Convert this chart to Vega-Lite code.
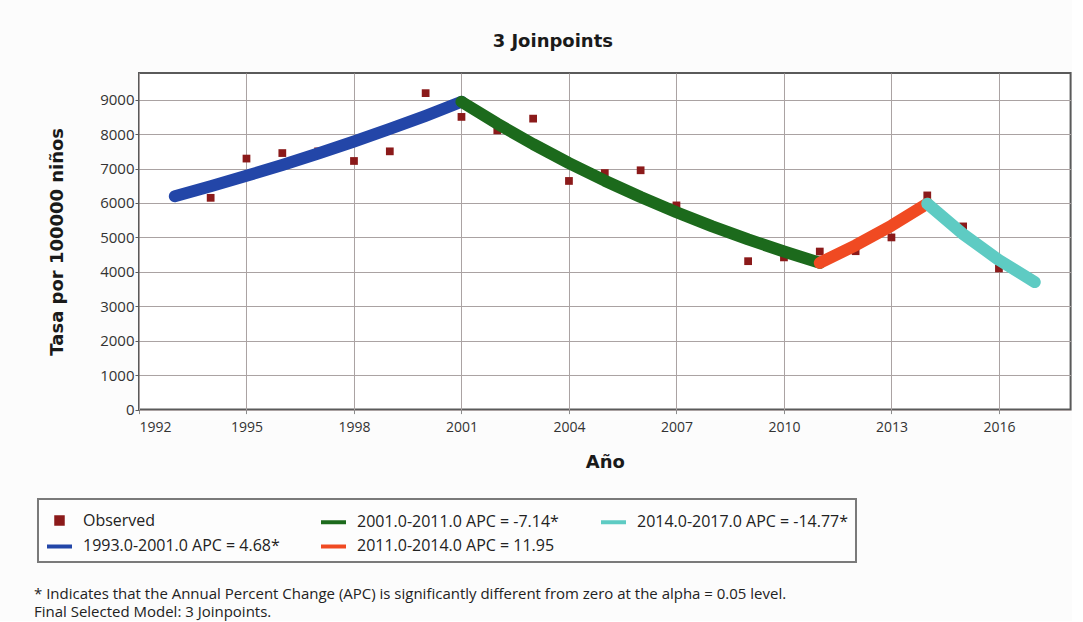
{
  "$schema": "https://vega.github.io/schema/vega-lite/v6.json",
  "background": "#fcfcfc",
  "padding": {"left": 34, "top": 32, "right": 0, "bottom": 0},
  "spacing": 112,
  "datasets": {
    "observed": [
      {"year": 1993, "rate": 6180, "series": "Observed"},
      {"year": 1994, "rate": 6150, "series": "Observed"},
      {"year": 1995, "rate": 7290, "series": "Observed"},
      {"year": 1996, "rate": 7450, "series": "Observed"},
      {"year": 1997, "rate": 7500, "series": "Observed"},
      {"year": 1998, "rate": 7220, "series": "Observed"},
      {"year": 1999, "rate": 7500, "series": "Observed"},
      {"year": 2000, "rate": 9190, "series": "Observed"},
      {"year": 2001, "rate": 8500, "series": "Observed"},
      {"year": 2002, "rate": 8110, "series": "Observed"},
      {"year": 2003, "rate": 8450, "series": "Observed"},
      {"year": 2004, "rate": 6640, "series": "Observed"},
      {"year": 2005, "rate": 6870, "series": "Observed"},
      {"year": 2006, "rate": 6950, "series": "Observed"},
      {"year": 2007, "rate": 5930, "series": "Observed"},
      {"year": 2008, "rate": 5300, "series": "Observed"},
      {"year": 2009, "rate": 4310, "series": "Observed"},
      {"year": 2010, "rate": 4420, "series": "Observed"},
      {"year": 2011, "rate": 4590, "series": "Observed"},
      {"year": 2012, "rate": 4600, "series": "Observed"},
      {"year": 2013, "rate": 5000, "series": "Observed"},
      {"year": 2014, "rate": 6220, "series": "Observed"},
      {"year": 2015, "rate": 5320, "series": "Observed"},
      {"year": 2016, "rate": 4100, "series": "Observed"},
      {"year": 2017, "rate": 3700, "series": "Observed"}
    ],
    "fitted": [
      {"year": 1993, "rate": 6195, "series": "1993.0-2001.0 APC = 4.68*"},
      {"year": 1994, "rate": 6485, "series": "1993.0-2001.0 APC = 4.68*"},
      {"year": 1995, "rate": 6789, "series": "1993.0-2001.0 APC = 4.68*"},
      {"year": 1996, "rate": 7106, "series": "1993.0-2001.0 APC = 4.68*"},
      {"year": 1997, "rate": 7439, "series": "1993.0-2001.0 APC = 4.68*"},
      {"year": 1998, "rate": 7787, "series": "1993.0-2001.0 APC = 4.68*"},
      {"year": 1999, "rate": 8152, "series": "1993.0-2001.0 APC = 4.68*"},
      {"year": 2000, "rate": 8533, "series": "1993.0-2001.0 APC = 4.68*"},
      {"year": 2001, "rate": 8940, "series": "1993.0-2001.0 APC = 4.68*"},
      {"year": 2001, "rate": 8940, "series": "2001.0-2011.0 APC = -7.14*"},
      {"year": 2002, "rate": 8302, "series": "2001.0-2011.0 APC = -7.14*"},
      {"year": 2003, "rate": 7709, "series": "2001.0-2011.0 APC = -7.14*"},
      {"year": 2004, "rate": 7159, "series": "2001.0-2011.0 APC = -7.14*"},
      {"year": 2005, "rate": 6648, "series": "2001.0-2011.0 APC = -7.14*"},
      {"year": 2006, "rate": 6173, "series": "2001.0-2011.0 APC = -7.14*"},
      {"year": 2007, "rate": 5732, "series": "2001.0-2011.0 APC = -7.14*"},
      {"year": 2008, "rate": 5323, "series": "2001.0-2011.0 APC = -7.14*"},
      {"year": 2009, "rate": 4943, "series": "2001.0-2011.0 APC = -7.14*"},
      {"year": 2010, "rate": 4590, "series": "2001.0-2011.0 APC = -7.14*"},
      {"year": 2011, "rate": 4262, "series": "2001.0-2011.0 APC = -7.14*"},
      {"year": 2011, "rate": 4262, "series": "2011.0-2014.0 APC = 11.95"},
      {"year": 2012, "rate": 4771, "series": "2011.0-2014.0 APC = 11.95"},
      {"year": 2013, "rate": 5342, "series": "2011.0-2014.0 APC = 11.95"},
      {"year": 2014, "rate": 5980, "series": "2011.0-2014.0 APC = 11.95"},
      {"year": 2014, "rate": 5980, "series": "2014.0-2017.0 APC = -14.77*"},
      {"year": 2015, "rate": 5097, "series": "2014.0-2017.0 APC = -14.77*"},
      {"year": 2016, "rate": 4344, "series": "2014.0-2017.0 APC = -14.77*"},
      {"year": 2017, "rate": 3703, "series": "2014.0-2017.0 APC = -14.77*"}
    ],
    "notes": [
      {"line": 1, "pos": 0, "text": "* Indicates that the Annual Percent Change (APC) is significantly different from zero at the alpha = 0.05 level."},
      {"line": 2, "pos": 0, "text": "Final Selected Model: 3 Joinpoints."}
    ]
  },
  "vconcat": [
    {
      "width": 931.6,
      "height": 336.6,
      "view": {"stroke": "#5a5a5a", "strokeWidth": 2, "fill": "#ffffff"},
      "title": {
        "text": "3 Joinpoints",
        "font": "DejaVu Sans",
        "fontSize": 18,
        "fontWeight": "bold",
        "color": "#1a1a1a",
        "anchor": "middle",
        "frame": "group",
        "dx": -52,
        "offset": 22
      },
      "encoding": {
        "x": {
          "field": "year",
          "type": "quantitative",
          "title": "Año",
          "scale": {"domain": [1992, 2018], "nice": false, "zero": false},
          "axis": {
            "values": [1992, 1995, 1998, 2001, 2004, 2007, 2010, 2013, 2016],
            "format": "d",
            "domain": false,
            "grid": true,
            "gridColor": "#aaa2a2",
            "gridWidth": 1,
            "ticks": true,
            "tickSize": 4,
            "tickColor": "#8a8a8a",
            "labelFont": "Open Sans",
            "labelFontSize": 14,
            "labelColor": "#333333",
            "labelPadding": 7,
            "titleFont": "DejaVu Sans",
            "titleFontSize": 18,
            "titleFontWeight": "bold",
            "titleColor": "#1a1a1a",
            "titlePadding": 19
          }
        },
        "y": {
          "field": "rate",
          "type": "quantitative",
          "title": "Tasa por 100000 niños",
          "scale": {"domain": [0, 9775], "nice": false},
          "axis": {
            "values": [0, 1000, 2000, 3000, 4000, 5000, 6000, 7000, 8000, 9000],
            "format": "d",
            "domain": false,
            "grid": true,
            "gridColor": "#aaa2a2",
            "gridWidth": 1,
            "ticks": true,
            "tickSize": 4,
            "tickColor": "#5a5a5a",
            "labelFont": "Open Sans",
            "labelFontSize": 15,
            "labelColor": "#333333",
            "labelPadding": 1,
            "titleFont": "DejaVu Sans",
            "titleFontSize": 18,
            "titleFontWeight": "bold",
            "titleColor": "#1a1a1a",
            "titlePadding": 33
          }
        },
        "color": {
          "field": "series",
          "type": "nominal",
          "scale": {
            "domain": [
              "Observed",
              "1993.0-2001.0 APC = 4.68*",
              "2001.0-2011.0 APC = -7.14*",
              "2011.0-2014.0 APC = 11.95",
              "2014.0-2017.0 APC = -14.77*"
            ],
            "range": ["#8b1a1a", "#2346a8", "#1c6a1c", "#f04a22", "#5ecbc3"]
          },
          "legend": {
            "title": null,
            "orient": "none",
            "legendX": -101,
            "legendY": 426,
            "columns": 3,
            "columnPadding": 33,
            "rowPadding": -3,
            "padding": 7,
            "strokeColor": "#7a7a7a",
            "fillColor": "#fdfdfd",
            "symbolSize": 625,
            "symbolStrokeWidth": 4,
            "labelFont": "Open Sans",
            "labelFontSize": 16,
            "labelColor": "#222222",
            "labelOffset": 9,
            "labelLimit": 400,
            "encode": {
              "legend": {"update": {"strokeWidth": {"value": 2}}},
              "symbols": {
                "update": {
                  "shape": {"signal": "datum.value === 'Observed' ? 'M-0.26,-0.26H0.26V0.26H-0.26Z' : 'stroke'"},
                  "size": {"value": 625},
                  "strokeWidth": {"value": 4},
                  "stroke": {"signal": "datum.value === 'Observed' ? 'transparent' : scale('color', datum.value)"},
                  "fill": {"signal": "datum.value === 'Observed' ? scale('color', datum.value) : 'transparent'"},
                  "opacity": {"value": 1},
                  "fillOpacity": {"value": 1},
                  "strokeOpacity": {"value": 1}
                }
              }
            }
          }
        }
      },
      "layer": [
        {
          "data": {"name": "observed"},
          "mark": {"type": "point", "shape": "square", "filled": true, "size": 60, "opacity": 1}
        },
        {
          "data": {"name": "fitted"},
          "mark": {"type": "line", "strokeWidth": 12, "strokeCap": "round", "strokeJoin": "round"}
        }
      ]
    },
    {
      "width": 931.6,
      "height": 36,
      "view": {"stroke": null},
      "data": {"name": "notes"},
      "mark": {"type": "text", "align": "left", "baseline": "middle", "font": "Open Sans", "fontSize": 15, "color": "#222222", "dx": -105},
      "encoding": {
        "x": {"field": "pos", "type": "quantitative", "scale": {"domain": [0, 1]}, "axis": null},
        "y": {"field": "line", "type": "ordinal", "axis": null, "scale": {"padding": 0.5}},
        "text": {"field": "text"}
      }
    }
  ]
}
